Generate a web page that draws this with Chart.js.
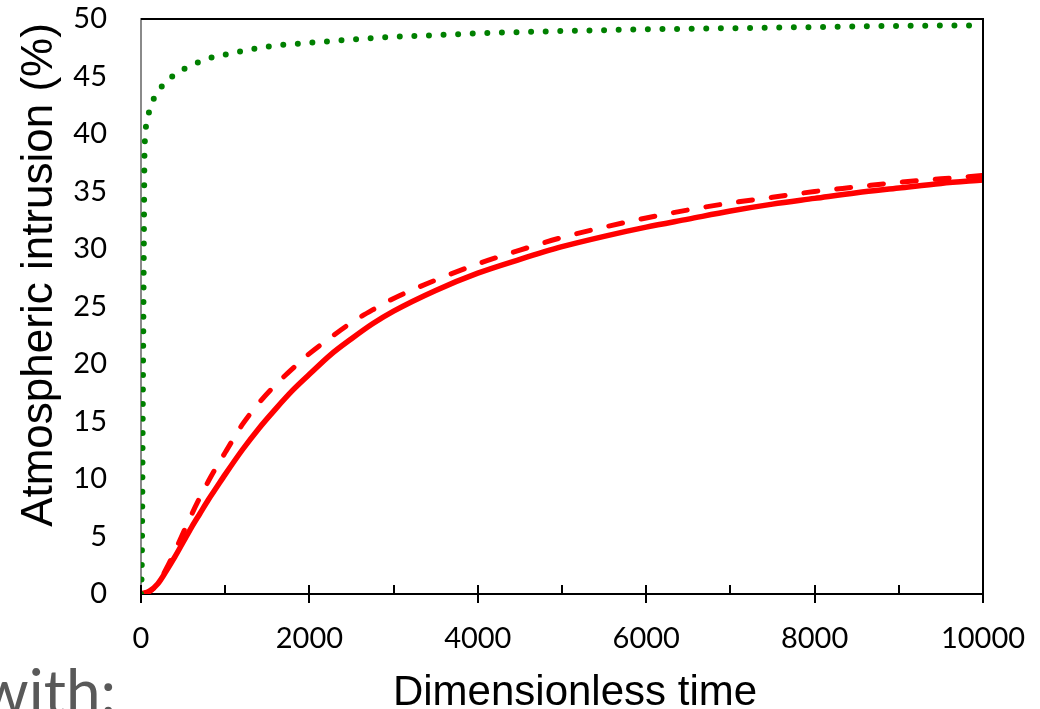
<!DOCTYPE html>
<html><head><meta charset="utf-8">
<script src="https://cdn.jsdelivr.net/npm/chart.js@4"></script>
<style>
html,body{margin:0;padding:0;background:#fff;}
#wrap{position:relative;width:1040px;height:709px;overflow:hidden;}
#with{position:absolute;right:924px;top:659px;font-family:Lato,sans-serif;font-size:62px;line-height:62px;color:#595959;white-space:nowrap;}
</style></head><body>
<div id="wrap"><canvas id="c" width="1040" height="709"></canvas><div id="with">with:</div></div>
<script>
const xTitle = 'Dimensionless time';
const yTitle = 'Atmospheric intrusion (%)';
const xTickValues = [0, 1000, 2000, 3000, 4000, 5000, 6000, 7000, 8000, 9000, 10000];

const greenTime = [0, 10, 15, 20, 28, 35, 40, 50, 75, 120, 186, 293, 428, 578, 740, 911, 1081, 1255, 1433, 1600, 1770, 1948, 2114, 2292, 2470, 3000, 3527, 4000, 5000, 6000, 7000, 8000, 9000, 10000];
const greenValues = [0, 3, 8, 15, 24, 32, 37.5, 39.8, 41.2, 42.5, 43.5, 44.5, 45.3, 45.9, 46.4, 46.8, 47.0, 47.3, 47.5, 47.7, 47.8, 47.9, 48.0, 48.1, 48.2, 48.45, 48.6, 48.75, 48.95, 49.1, 49.2, 49.3, 49.4, 49.45];

const solidTime = [0, 100, 200, 300, 400, 500, 600, 700, 800, 900, 1000, 1200, 1400, 1600, 1800, 2000, 2250, 2500, 2750, 3000, 3500, 4000, 4500, 5000, 5500, 6000, 6500, 7000, 7500, 8000, 8500, 9000, 9500, 10000];
const solidValues = [0, 0.25, 0.9, 2.0, 3.2, 4.5, 5.8, 7.0, 8.2, 9.3, 10.4, 12.5, 14.4, 16.1, 17.7, 19.1, 20.8, 22.2, 23.5, 24.6, 26.4, 27.9, 29.1, 30.2, 31.1, 31.9, 32.6, 33.3, 33.9, 34.4, 34.9, 35.3, 35.7, 36.0];

const dashTime = [0, 100, 200, 300, 400, 500, 600, 700, 800, 900, 1000, 1200, 1400, 1600, 1800, 2000, 2250, 2500, 2750, 3000, 3500, 4000, 4500, 5000, 5500, 6000, 6500, 7000, 7500, 8000, 8500, 9000, 9500, 10000];
const dashValues = [0, 0.2, 0.9, 2.2, 3.7, 5.3, 6.9, 8.4, 9.8, 11.1, 12.3, 14.7, 16.6, 18.2, 19.6, 20.9, 22.3, 23.6, 24.7, 25.7, 27.3, 28.7, 29.9, 31.0, 31.9, 32.7, 33.4, 34.0, 34.5, 35.0, 35.4, 35.8, 36.1, 36.4];

const pts = (xs, ys) => xs.map((x, i) => ({x, y: ys[i]}));

const decor = {
  id: 'decor',
  afterDraw(chart) {
    const {ctx, chartArea: a, scales: {x}} = chart;
    ctx.save();
    ctx.strokeStyle = '#000';
    ctx.lineWidth = 2;
    ctx.beginPath();
    ctx.moveTo(a.left, a.top);
    ctx.lineTo(a.right, a.top);
    ctx.lineTo(a.right, a.bottom);
    ctx.stroke();
    for (const v of xTickValues) {
      const px = Math.round(x.getPixelForValue(v));
      const major = v % 2000 === 0;
      ctx.beginPath();
      ctx.moveTo(px, a.bottom - 9);
      ctx.lineTo(px, a.bottom + (major ? 9 : 0));
      ctx.stroke();
    }
    ctx.fillStyle = '#000';
    ctx.textAlign = 'center';
    ctx.textBaseline = 'alphabetic';
    ctx.font = '42px "Liberation Sans", Arial, sans-serif';
    ctx.fillText(xTitle, 575, 705);
    ctx.font = '44px "Liberation Sans", Arial, sans-serif';
    ctx.translate(52, 275);
    ctx.rotate(-Math.PI / 2);
    ctx.fillText(yTitle, 0, 0);
    ctx.restore();
  }
};

function zeroPad(s) { s.paddingTop = 0; s.paddingBottom = 0; s.paddingLeft = 0; s.paddingRight = 0; }

function draw() {
  Chart.defaults.font.family = 'Lato';
  Chart.defaults.color = '#000';
  new Chart(document.getElementById('c'), {
    type: 'line',
    data: {
      datasets: [
        {data: pts(greenTime, greenValues), borderColor: '#008000', borderWidth: 6, borderDash: [0, 14.6], borderCapStyle: 'round', pointRadius: 0, cubicInterpolationMode: 'monotone', fill: false},
        {data: pts(dashTime, dashValues), borderColor: '#FF0000', borderWidth: 5, borderDash: [14, 19], borderCapStyle: 'round', pointRadius: 0, cubicInterpolationMode: 'monotone', fill: false},
        {data: pts(solidTime, solidValues), borderColor: '#FF0000', borderWidth: 5.5, pointRadius: 0, cubicInterpolationMode: 'monotone', fill: false}
      ]
    },
    options: {
      responsive: false,
      animation: false,
      events: [],
      layout: {padding: {top: 19, right: 57, left: 0, bottom: 0}},
      plugins: {legend: {display: false}, tooltip: {enabled: false}},
      scales: {
        x: {
          type: 'linear', min: 0, max: 10000,
          afterFit: s => { s.height = 115; zeroPad(s); },
          afterBuildTicks: s => { s.ticks = xTickValues.map(v => ({value: v})); },
          ticks: {padding: 27, font: {size: 29}, maxRotation: 0, autoSkip: false,
            callback: v => (v % 2000 === 0 ? String(v) : '')},
          grid: {display: true, drawOnChartArea: false, drawTicks: false},
          border: {display: true, color: '#000', width: 2}
        },
        y: {
          min: 0, max: 50,
          afterFit: s => { s.width = 141; zeroPad(s); },
          ticks: {stepSize: 5, padding: 34, font: {size: 29}},
          grid: {display: true, drawOnChartArea: false, drawTicks: false},
          border: {display: true, color: '#8a8a8a', width: 2}
        }
      }
    },
    plugins: [decor]
  });
}
Promise.all([
  document.fonts.load('29px Lato'),
  document.fonts.load('44px "Liberation Sans"')
]).then(draw, draw);
</script>
</body></html>
